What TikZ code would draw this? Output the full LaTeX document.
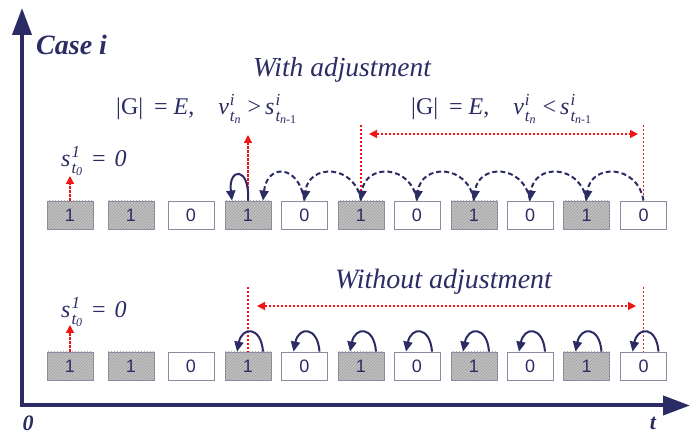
\documentclass[tikz,border=0pt]{standalone}
\usepackage{fontspec}
\usepackage{amsmath}
\setmainfont{Liberation Serif}
\setsansfont{Liberation Sans}
\usetikzlibrary{arrows.meta,patterns}
\definecolor{navy}{RGB}{44,44,100}
\definecolor{boxedge}{RGB}{140,140,160}
\definecolor{myred}{RGB}{240,20,20}
\newcommand\subsup[2]{\kern1pt$^{\textit{#1}}_{#2}$}
\begin{document}
\begin{tikzpicture}[x=1pt,y=1pt,
  cell/.style={draw=boxedge, line width=0.8pt, minimum width=46pt, minimum height=28pt,
    inner sep=0pt, font=\sffamily\fontsize{18}{18}\selectfont, text=navy},
  bone/.style={cell, preaction={fill=gray!48}, pattern=north east lines, pattern color=gray!75},
  bzero/.style={cell, fill=white},
  axisline/.style={navy, line width=4pt, line join=miter,
    {Triangle[length=27pt,width=19pt]}-{Triangle[length=27pt,width=19pt]}},
  redbase/.style={myred, line width=1.4pt, dash pattern=on 2.2pt off 1.8pt},
  redarr/.style={redbase, -{Triangle[length=8pt,width=8pt]}},
  redboth/.style={redbase, {Triangle[length=8pt,width=8pt]}-{Triangle[length=8pt,width=8pt]}},
  loopsolid/.style={navy, line width=2pt, -{Triangle[length=10pt,width=9pt]}},
  loopdash/.style={navy, line width=2pt, dash pattern=on 5pt off 3pt, -{Triangle[length=10pt,width=9pt]}},
  lbl/.style={text=navy, inner sep=0pt},
  fml/.style={lbl, anchor=base west, font=\fontsize{24}{24}\selectfont},
]
\useasboundingbox (0,0) rectangle (691,436);

% axes
\coordinate (ytop) at (22,428);
\coordinate (orig) at (22,30.5);
\coordinate (xend) at (690,30.5);
\draw[axisline] (ytop) -- (orig) -- (xend);
\node[lbl, anchor=west, font=\bfseries\itshape\fontsize{28}{28}\selectfont] (case) at (36,391) {Case i};
\node[lbl, font=\bfseries\itshape\fontsize{22}{22}\selectfont] (zero) at (28,13) {0};
\node[lbl, font=\bfseries\itshape\fontsize{22}{22}\selectfont] (tlab) at (653,13) {t};

% boxes
\foreach \n/\x/\v in {1/70/1,2/131/1,3/191/0,4/248/1,5/304.5/0,6/361/1,7/417/0,8/474/1,9/530/0,10/586.5/1,11/643.5/0}{
  \ifnum\v=1
    \node[bone] (u\n) at (\x,221) {\v};
    \node[bone] (l\n) at (\x,70) {\v};
  \else
    \node[bzero] (u\n) at (\x,221) {\v};
    \node[bzero] (l\n) at (\x,70) {\v};
  \fi
}

% texts
\node[lbl, font=\itshape\fontsize{27.5}{27.5}\selectfont] (with) at (342,366) {With adjustment};
\node[lbl, font=\itshape\fontsize{28}{28}\selectfont] (without) at (443.5,154) {Without adjustment};
\node[fml] (f1) at (116,321)
  {|G|\hspace{11pt}=\hspace{6pt}\textit{E},\hspace{24pt}\textit{v}\subsup{i}{\textit{t}_{\textit{n}}}\hspace{6pt}>\hspace{4pt}\textit{s}\subsup{i}{\textit{t}_{\textit{n}\text{-1}}}};
\node[fml] (f2) at (411,321)
  {|G|\hspace{11pt}=\hspace{6pt}\textit{E},\hspace{24pt}\textit{v}\subsup{i}{\textit{t}_{\textit{n}}}\hspace{6pt}<\hspace{4pt}\textit{s}\subsup{i}{\textit{t}_{\textit{n}\text{-1}}}};
\node[fml] (s1) at (61,269)
  {\textit{s}\subsup{1}{\textit{t}_{\textit{0}}}\hspace{9pt}=\hspace{9pt}\textit{0}};
\node[fml] (s2) at (61,118)
  {\textit{s}\subsup{1}{\textit{t}_{\textit{0}}}\hspace{9pt}=\hspace{9pt}\textit{0}};

% red markers, top row
\coordinate (r1) at (70,260);
\coordinate (r4) at (248,301);
\coordinate (v6) at (361,311);
\coordinate (v11) at (643.5,311);
\coordinate (ha) at (369,302);
\coordinate (hb) at (638,302);
\draw[redarr] (u1.north) -- (r1);
\draw[redarr] (u4.north) -- (r4);
\draw[redbase] (v6) -- (u6.north);
\draw[redbase] (v11) -- (u11.north);
\draw[redboth] (ha) -- (hb);

% red markers, bottom row
\coordinate (q1) at (70,111);
\coordinate (w4) at (248,149);
\coordinate (w11) at (643.5,149);
\coordinate (ga) at (257,130);
\coordinate (gb) at (636,130);
\draw[redarr] (l1.north) -- (q1);
\draw[redbase] (w4) -- (l4.north);
\draw[redbase] (w11) -- (l11.north);
\draw[redboth] (ga) -- (gb);

% navy arcs, top row
\draw[loopsolid] (u4.north) .. controls +(2,35) and +(-4,33) .. ([xshift=-16pt]u4.north);
\draw[loopdash] (u5.north) .. controls +(-6,37) and +(4,37) .. ([xshift=15pt]u4.north);
\foreach \a/\b in {6/5,7/6,8/7,9/8,10/9,11/10}{
  \draw[loopdash] (u\a.north) .. controls +(-6,37) and +(4,37) .. (u\b.north);
}

% navy arcs, bottom row
\foreach \n in {4,...,11}{
  \draw[loopsolid] ([xshift=15pt]l\n.north) .. controls +(-2,26) and +(5,25) .. ([xshift=-11pt]l\n.north);
}
\end{tikzpicture}
\end{document}
